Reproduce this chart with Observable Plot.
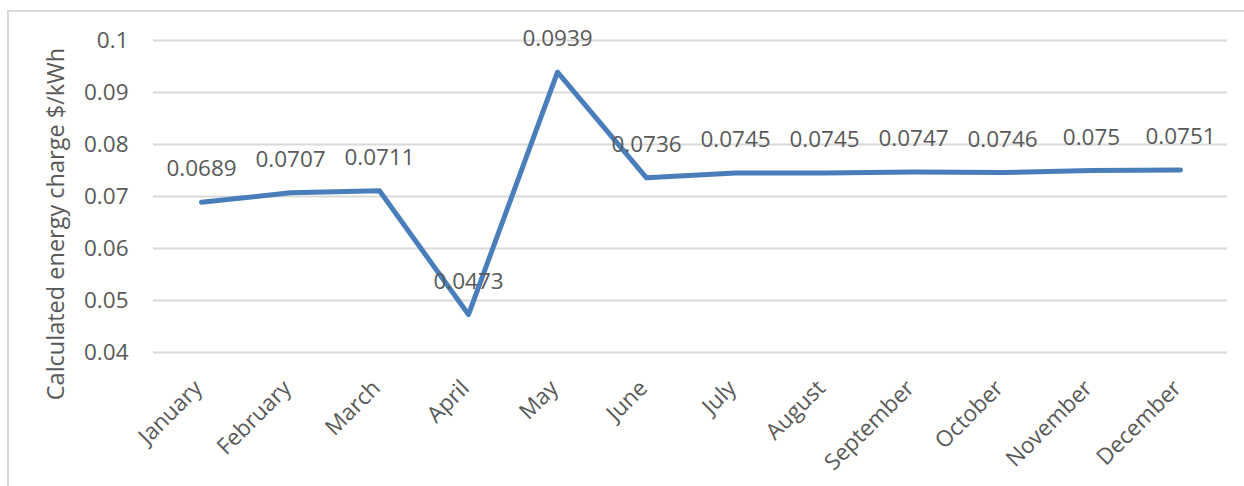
<!DOCTYPE html>
<html>
<head>
<meta charset="utf-8">
<script src="https://cdn.jsdelivr.net/npm/d3@7"></script>
<script src="https://cdn.jsdelivr.net/npm/@observablehq/plot@0.6"></script>
<style>
  html, body { margin: 0; padding: 0; background: #fff; }
  #wrap { position: relative; width: 1244px; height: 486px; overflow: hidden; }
  #border { position: absolute; left: 7px; top: 10px; width: 1240px; height: 480px; border: 2px solid #d9d9d9; box-sizing: border-box; pointer-events: none; }
  #chart { position: absolute; left: 0; top: 0; }
  #ytitle { position: absolute; left: 56px; top: 224px; transform: translate(-50%, -50%) rotate(-90deg); white-space: nowrap;
    font-family: 'Open Sans', sans-serif; font-size: 23.5px; color: #595959; line-height: 1; }
</style>
</head>
<body>
<div id="wrap"><div id="border"></div><div id="chart"></div><div id="ytitle"></div></div>
<script>
const months = ["January","February","March","April","May","June","July","August","September","October","November","December"];
const charges = [0.0689, 0.0707, 0.0711, 0.0473, 0.0939, 0.0736, 0.0745, 0.0745, 0.0747, 0.0746, 0.075, 0.0751];
const yTicks = [0.04, 0.05, 0.06, 0.07, 0.08, 0.09, 0.1];
const yTitle = "Calculated energy charge $/kWh";

const data = months.map((m, i) => ({month: m, value: charges[i]}));

document.getElementById("ytitle").textContent = yTitle;

const chart = Plot.plot({
  width: 1244,
  height: 486,
  marginLeft: 153,
  marginRight: 17,
  marginTop: 40,
  marginBottom: 134,
  style: {fontFamily: "'Open Sans', sans-serif", fontSize: "22.5px", color: "#595959", background: "transparent"},
  x: {type: "point", domain: months, padding: 0.5},
  y: {domain: [0.04, 0.1]},
  marks: [
    Plot.gridY(yTicks, {stroke: "#d9d9d9", strokeOpacity: 1, strokeWidth: 2}),
    Plot.axisY(yTicks, {tickSize: 0, tickPadding: 25, tickFormat: d => String(+d.toFixed(2)), fill: "#595959", label: null}),
    Plot.axisX({tickSize: 0, tickPadding: 32, tickRotate: -45, label: null, fill: "#595959", dx: -3}),
    Plot.line(data, {x: "month", y: "value", stroke: "#4a7ebb", strokeWidth: 5, strokeLinecap: "round", strokeLinejoin: "round"}),
    Plot.text(data, {x: "month", y: "value", text: d => String(d.value), dy: -33, fill: "#595959", fontSize: 22.5})
  ]
});
document.getElementById("chart").appendChild(chart);
</script>
</body>
</html>
